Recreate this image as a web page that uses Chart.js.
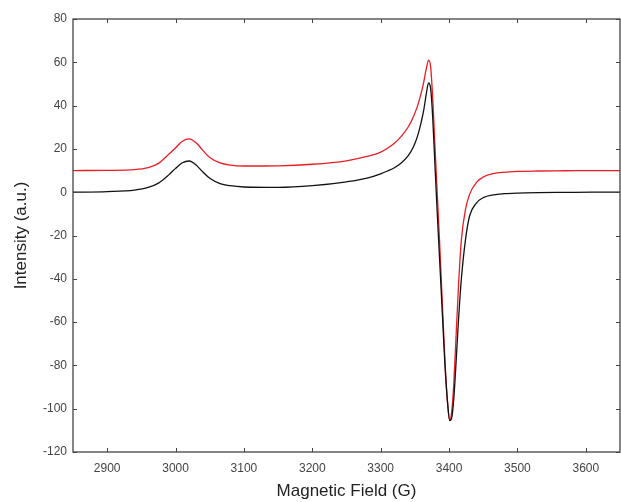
<!DOCTYPE html>
<html>
<head>
<meta charset="utf-8">
<script src="https://cdn.jsdelivr.net/npm/chart.js@4.4.0/dist/chart.umd.min.js"></script>
<style>
  html, body { margin: 0; padding: 0; background: #fff; }
</style>
</head>
<body>
<canvas id="c" width="621" height="502"></canvas>
<script>
// magnetic field (G)
const fieldG = [2850, 2900, 2940, 2960, 2975, 2990, 3000, 3010, 3020, 3030, 3040, 3050, 3065, 3080, 3100,
  3150, 3200, 3250, 3280, 3300, 3310, 3320, 3330, 3340, 3348, 3354, 3359, 3363, 3367, 3370, 3373, 3376,
  3379, 3382, 3386, 3390, 3394, 3398, 3401, 3404, 3407, 3410, 3414, 3418, 3424, 3430, 3440, 3450, 3465,
  3480, 3500, 3530, 3570, 3610, 3650];

const blackIntensity = [0, 0.3, 1.0, 2.2, 4.2, 8.0, 11, 13.6, 14.4, 12.6, 9.3, 6.4, 4.0, 3.0, 2.4,
  2.2, 3.0, 4.8, 6.5, 8.5, 9.8, 11.3, 13.5, 16.8, 21, 26, 32, 38, 46, 50.5, 48, 35,
  15, -5, -30, -55, -80, -98, -105.5, -104, -95, -80, -58, -40, -22, -11, -5, -2.5, -1.2,
  -0.7, -0.4, -0.2, -0.1, 0, 0];

const redIntensity = [10, 10.1, 10.4, 11.3, 13.3, 17.5, 20.5, 23.5, 24.6, 22.8, 19.3, 16, 13.5, 12.5, 12.1,
  12.2, 12.9, 14.5, 16.5, 18.5, 20.3, 22.6, 25.8, 30, 35, 40, 45.5, 51, 57.5, 61, 58, 44,
  24, 4, -22, -50, -78, -98, -105.5, -101, -88, -68, -42, -22, -8, -1, 4.5, 7, 8.6,
  9.2, 9.6, 9.8, 9.9, 10, 10];

const xTicks = [2900, 3000, 3100, 3200, 3300, 3400, 3500, 3600];
const yTicks = [-120, -100, -80, -60, -40, -20, 0, 20, 40, 60, 80];

const axisColor = '#444';
const labelFont = { family: "'Liberation Sans', Arial, sans-serif", size: 12 };
const titleFont = { family: "'Liberation Sans', Arial, sans-serif", size: 17, lineHeight: 1.2 };

// frame round the plot with inward tick marks on all four sides
const boxTicks = {
  id: 'boxTicks',
  afterDraw(chart) {
    const { ctx, chartArea: a, scales: { x, y } } = chart;
    ctx.save();
    ctx.strokeStyle = axisColor;
    ctx.lineWidth = 1.3;
    ctx.strokeRect(a.left, a.top, a.right - a.left, a.bottom - a.top);
    ctx.beginPath();
    xTicks.forEach(v => {
      const px = Math.round(x.getPixelForValue(v)) + 0.5;
      ctx.moveTo(px, a.bottom); ctx.lineTo(px, a.bottom - 4);
      ctx.moveTo(px, a.top); ctx.lineTo(px, a.top + 4);
    });
    yTicks.forEach(v => {
      const py = Math.round(y.getPixelForValue(v)) + 0.5;
      ctx.moveTo(a.left, py); ctx.lineTo(a.left + 4, py);
      ctx.moveTo(a.right, py); ctx.lineTo(a.right - 4, py);
    });
    ctx.lineWidth = 1;
    ctx.stroke();
    ctx.restore();
  }
};

new Chart(document.getElementById('c'), {
  type: 'line',
  data: {
    datasets: [
      {
        label: 'black',
        data: fieldG.map((g, i) => ({ x: g, y: blackIntensity[i] })),
        borderColor: '#111',
        borderWidth: 1.3,
        pointRadius: 0,
        cubicInterpolationMode: 'monotone'
      },
      {
        label: 'red',
        data: fieldG.map((g, i) => ({ x: g, y: redIntensity[i] })),
        borderColor: 'rgb(232, 30, 36)',
        borderWidth: 1.3,
        pointRadius: 0,
        cubicInterpolationMode: 'monotone'
      }
    ]
  },
  options: {
    responsive: false,
    animation: false,
    layout: { padding: { top: 19, right: 1, left: 0, bottom: 0 } },
    plugins: { legend: { display: false }, tooltip: { enabled: false } },
    scales: {
      x: {
        type: 'linear',
        min: 2850,
        max: 3650,
        afterBuildTicks: s => { s.ticks = xTicks.map(v => ({ value: v })); },
        afterFit: s => { s.height = 50; },
        grid: { display: false, drawTicks: false },
        border: { display: false },
        ticks: { padding: 9, color: '#444', font: labelFont, maxRotation: 0, autoSkip: false, callback: v => String(v) },
        title: { display: true, text: 'Magnetic Field (G)', color: '#222', font: titleFont, padding: { top: 0, bottom: 0 } }
      },
      y: {
        min: -120,
        max: 80,
        afterBuildTicks: s => { s.ticks = yTicks.map(v => ({ value: v })); },
        afterFit: s => { s.width = 73; },
        grid: { display: false, drawTicks: false },
        border: { display: false },
        ticks: { padding: 6, color: '#444', font: labelFont, autoSkip: false, callback: v => String(v) },
        title: { display: true, text: 'Intensity (a.u.)', color: '#222', font: titleFont, padding: { top: 11, bottom: 0 } }
      }
    }
  },
  plugins: [boxTicks]
});
</script>
</body>
</html>
